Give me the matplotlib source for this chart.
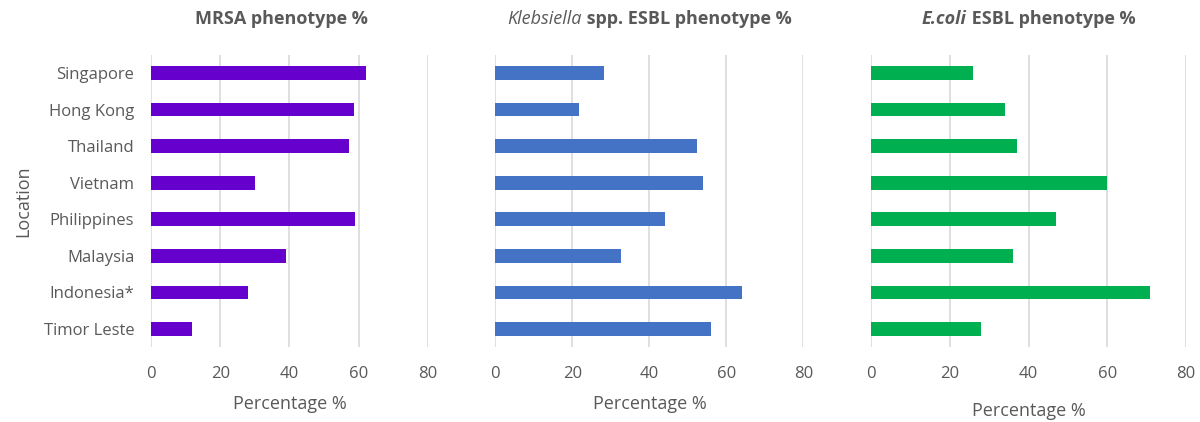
import matplotlib.pyplot as plt

locations = ['Singapore', 'Hong Kong', 'Thailand', 'Vietnam',
             'Philippines', 'Malaysia', 'Indonesia*', 'Timor Leste']
mrsa = [62.1, 58.6, 57.1, 30.0, 59.0, 38.9, 28.0, 11.8]
kleb = [28.3, 21.8, 52.3, 54.0, 44.0, 32.5, 64.0, 56.1]
ecoli = [25.9, 33.9, 36.9, 60.0, 46.9, 35.9, 70.9, 27.9]
xticks = [0, 20, 40, 60, 80]

plt.rcParams['font.family'] = ['Open Sans', 'DejaVu Sans']
grey = '#595959'

fig = plt.figure(figsize=(12, 4.22), dpi=100)
bottom, height = 0.1777, 0.692
boxes = [(0.1258, 0.2308), (0.4128, 0.2567), (0.7261, 0.2623)]
series = [mrsa, kleb, ecoli]
colors = ['#6600CC', '#4472C4', '#00B050']
label_pad = [9, 9, 14]

axes = []
for i, (box, vals, col) in enumerate(zip(boxes, series, colors)):
    ax = fig.add_axes([box[0], bottom, box[1], height])
    ypos = list(range(len(locations)))
    ax.barh(ypos, vals, height=0.37, color=col, zorder=3)
    ax.set_xlim(0, 80)
    ax.set_ylim(len(locations) - 0.5, -0.5)
    ax.set_xticks(xticks)
    ax.grid(axis='x', color='#D9D9D9', linewidth=1.2, zorder=0)
    for s in ax.spines.values():
        s.set_visible(False)
    ax.tick_params(length=0, labelsize=12, labelcolor=grey, pad=14)
    ax.tick_params(axis='y', pad=12)
    if i == 0:
        ax.set_yticks(ypos)
        ax.set_yticklabels(locations)
        ax.set_ylabel('Location', fontsize=13, color=grey, labelpad=8)
    else:
        ax.set_yticks([])
    ax.set_xlabel('Percentage %', fontsize=13, color=grey, labelpad=label_pad[i])
    axes.append(ax)


def title(ax, parts, y=0.955, shift=0):
    # parts: list of (text, style, weight)
    fig.canvas.draw()
    r = fig.canvas.get_renderer()
    texts = []
    for s, st, w in parts:
        t = fig.text(0, y, s, fontsize=13, style=st, weight=w, color=grey,
                     va='center', ha='left')
        texts.append(t)
    widths = [t.get_window_extent(r).width for t in texts]
    bb = ax.get_position()
    cx = (bb.x0 + bb.x1) / 2 * fig.bbox.width + shift
    x = cx - sum(widths) / 2
    for t, w in zip(texts, widths):
        t.set_x(x / fig.bbox.width)
        x += w


title(axes[0], [('MRSA phenotype %', 'normal', 'bold')], shift=-8)
title(axes[1], [('Klebsiella', 'italic', 'normal'),
                (' spp. ESBL phenotype %', 'normal', 'bold')])
title(axes[2], [('E.coli', 'italic', 'bold'),
                (' ESBL phenotype %', 'normal', 'bold')])

fig.savefig('out.png', dpi=100)
